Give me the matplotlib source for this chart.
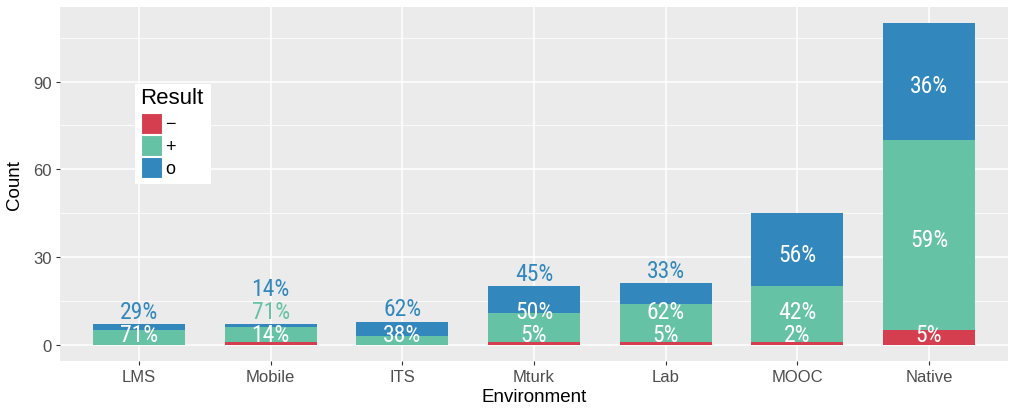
import numpy as np
import matplotlib
matplotlib.use('Agg')
import matplotlib.pyplot as plt
from matplotlib import font_manager
from matplotlib.patches import Rectangle

# data
environments = ['LMS', 'Mobile', 'ITS', 'Mturk', 'Lab', 'MOOC', 'Native']
minus_counts = [0, 1, 0, 1, 1, 1, 5]
plus_counts = [5, 5, 3, 10, 13, 19, 65]
o_counts = [2, 1, 5, 9, 7, 25, 40]
results = ['\u2212', '+', 'o']
colors = ['#D53E4F', '#66C2A5', '#3288BD']

plt.rcParams['font.family'] = ['Liberation Sans', 'DejaVu Sans']

names = {f.name for f in font_manager.fontManager.ttflist}
pct_font = next((n for n in ['Liberation Sans Narrow', 'DejaVu Sans Condensed', 'Roboto Condensed']
                 if n in names), 'DejaVu Sans')

W, H = 1013, 410
fig = plt.figure(figsize=(W / 100, H / 100), dpi=100)
ax = fig.add_axes([60 / W, (H - 362) / H, (1008 - 60) / W, (362 - 8) / H])
ax.set_facecolor('#EBEBEB')
for s in ax.spines.values():
    s.set_visible(False)

x = np.arange(1, len(environments) + 1)
series = [minus_counts, plus_counts, o_counts]
bottom = np.zeros(len(x))
for vals, col in zip(series, colors):
    ax.bar(x, vals, 0.7, bottom=bottom, color=col, zorder=3)
    bottom += np.array(vals)

# percent labels, stacked so they don't collide
h = 7.7
for i in range(len(x)):
    segs = [s[i] for s in series]
    total = sum(segs)
    base = 0
    prev = -np.inf
    for c, col in zip(segs, colors):
        if c == 0:
            continue
        y = max(base + c / 2 - 1.5, prev + h, 3.7)
        tc = 'white'
        if y > total - 2.5:
            y = max(y, total + 4.5)
            tc = col
        pct = round(100 * c / total)
        ax.text(x[i], y, f'{pct}%', ha='center', va='center', color=tc,
                fontsize=17, family=[pct_font, 'DejaVu Sans'], fontstretch='condensed', zorder=4)
        prev = y
        base += c

ax.set_xlim(0.4, 7.6)
ax.set_ylim(-5.5, 115.5)
ax.set_yticks([0, 30, 60, 90])
ax.set_yticks([15, 45, 75, 105], minor=True)
ax.set_xticks(x)
ax.set_xticklabels(environments)
ax.grid(which='major', color='white', linewidth=1.1, zorder=0)
ax.grid(which='minor', axis='y', color='white', linewidth=0.55, zorder=0)
ax.set_axisbelow(True)
ax.tick_params(which='major', length=3, width=0.8, color='#333333', labelcolor='#4D4D4D',
               labelsize=12, pad=3)
ax.tick_params(which='minor', length=0)
ax.set_xlabel('Environment', fontsize=13.5, labelpad=3)
ax.set_ylabel('Count', fontsize=13.5, labelpad=7)

# legend drawn by hand in pixel coords
def px(xp, yp):
    return xp / W, (H - yp) / H

lx, ly = px(135, 185)
fig.add_artist(Rectangle((lx, ly), 76 / W, 100 / H, transform=fig.transFigure,
                         facecolor='white', edgecolor='none', zorder=5))
tx, ty = px(140, 99)
fig.text(tx, ty, 'Result', fontsize=16, va='center', ha='left', zorder=6)
for k, (lab, col) in enumerate(zip(results, colors)):
    top = 114 + k * 22
    kx, ky = px(141, top + 21)
    fig.add_artist(Rectangle((kx, ky), 21 / W, 21 / H, transform=fig.transFigure,
                             facecolor=col, edgecolor='white', linewidth=0.8, zorder=6))
    lx2, ly2 = px(165, top + 11)
    fig.text(lx2, ly2, lab, fontsize=13, va='center', ha='left', zorder=6)

fig.savefig('out.png', dpi=100)
